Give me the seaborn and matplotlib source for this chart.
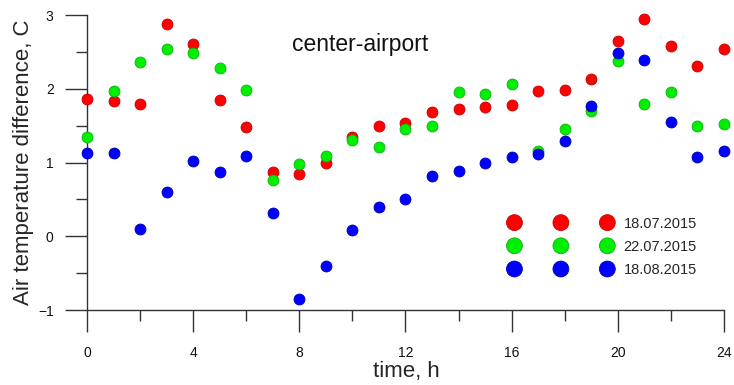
import numpy as np
import pandas as pd
import matplotlib
matplotlib.use("Agg")
import matplotlib.pyplot as plt
import seaborn as sns

# === Data ===
hours = list(range(25))

t_18_07 = [1.86, 1.83, 1.80, 2.88, 2.61, 1.85, 1.48, 0.87, 0.85, 1.00, 1.34, 1.50, 1.54,
           1.68, 1.73, 1.75, 1.78, 1.97, 1.98, 2.13, 2.65, 2.95, 2.58, 2.31, 2.54]
t_22_07 = [1.35, 1.97, 2.36, 2.54, 2.48, 2.28, 1.98, 0.76, 0.98, 1.09, 1.30, 1.21, 1.45,
           1.50, 1.96, 1.93, 2.06, 1.15, 1.46, 1.70, 2.37, 1.80, 1.95, 1.49, 1.52]
t_18_08 = [1.13, 1.13, 0.10, 0.60, 1.02, 0.87, 1.09, 0.32, -0.85, -0.41, 0.08, 0.39, 0.51,
           0.82, 0.88, 1.00, 1.07, 1.11, 1.29, 1.76, 2.49, 2.39, 1.55, 1.07, 1.15]

dates = ["18.07.2015", "22.07.2015", "18.08.2015"]
colors = ["#ff0000", "#00ee00", "#0000ff"]
edges = ["#c80000", "#10b010", "#0000b0"]

df = pd.concat([
    pd.DataFrame({"time": hours, "diff": vals, "date": d})
    for d, vals in zip(dates, [t_18_07, t_22_07, t_18_08])
])

# === Style ===
sns.set_style("ticks")
plt.rcParams["font.family"] = ["Liberation Sans", "DejaVu Sans"]

fig = plt.figure(figsize=(7.34, 3.85), dpi=100)
ax = fig.add_axes([0.1185, 0.1948, 0.8679, 0.7662])

for d, c, e in zip(dates, colors, edges):
    sns.scatterplot(
        data=df[df["date"] == d], x="time", y="diff",
        color=c, edgecolor=e, linewidth=0.6, s=62,
        label=d, ax=ax, zorder=3, clip_on=False,
    )

ax.set_xlim(0, 24)
ax.set_ylim(-1, 3)
ax.set_xticks([0, 4, 8, 12, 16, 20, 24])
ax.set_xticks(np.arange(2, 24, 4), minor=True)
ax.set_yticks([-1, 0, 1, 2, 3])
ax.set_yticks(np.arange(-0.5, 3, 1), minor=True)

sns.despine(ax=ax)
for side in ["left", "bottom"]:
    ax.spines[side].set_color("#333333")
    ax.spines[side].set_linewidth(1.0)

ax.tick_params(which="major", length=16, width=1.0, color="#333333",
               labelsize=10, pad=8, labelcolor="#111111")
ax.tick_params(axis="x", which="major", pad=10)
ax.tick_params(which="minor", length=8, width=1.0, color="#333333")

ax.set_xlabel("time, h", fontsize=16, va="center")
ax.set_ylabel("Air temperature difference, C", fontsize=16, va="center")
ax.xaxis.set_label_coords(0.502, -0.21)
ax.yaxis.set_label_coords(-0.099, 0.5)

ax.text(0.322, 0.90, "center-airport", transform=ax.transAxes,
        fontsize=16.5, ha="left", va="center", color="#111111")

sns.move_legend(
    ax, "upper left", bbox_to_anchor=(0.655, 0.336), borderaxespad=0,
    scatterpoints=3, scatteryoffsets=[0.5], markerscale=1.45,
    frameon=False, title=None,
    handlelength=6.97, handletextpad=0.8, labelspacing=0.63, fontsize=10.5,
)

plt.savefig("out.png", dpi=100)
plt.close()
